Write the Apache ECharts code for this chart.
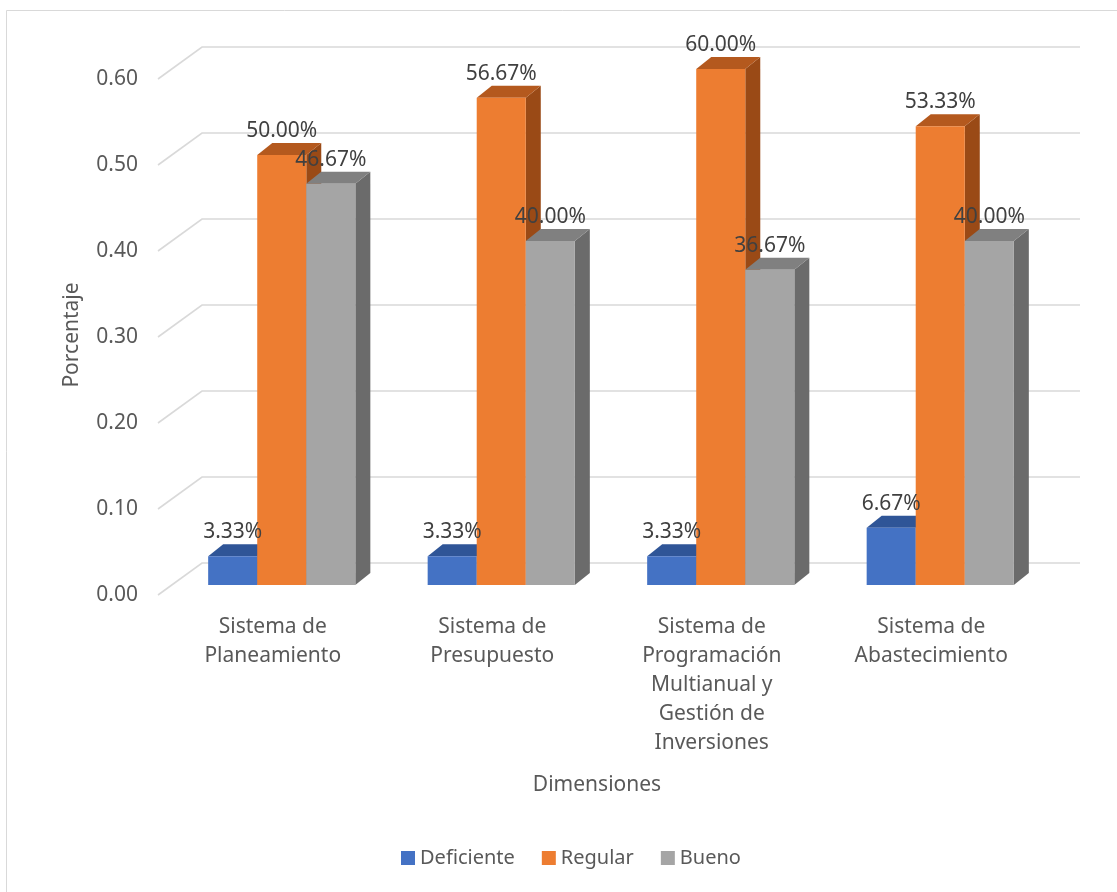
<!DOCTYPE html>
<html>
<head>
<meta charset="utf-8">
<script src="https://cdn.jsdelivr.net/npm/echarts@6/dist/echarts.min.js"></script>
<style>
html,body{margin:0;padding:0;background:#fff;}
#chart{width:1117px;height:892px;}
</style>
</head>
<body>
<div id="chart"></div>
<script>
// ---- data ----
const categories = [
  'Sistema de\nPlaneamiento',
  'Sistema de\nPresupuesto',
  'Sistema de\nProgramación\nMultianual y\nGestión de\nInversiones',
  'Sistema de\nAbastecimiento'
];
const seriesNames = ['Deficiente', 'Regular', 'Bueno'];
const deficiente = [0.0333, 0.0333, 0.0333, 0.0667];
const regular = [0.5000, 0.5667, 0.6000, 0.5333];
const bueno = [0.4667, 0.4000, 0.3667, 0.4000];
const yTicks = [0, 0.1, 0.2, 0.3, 0.4, 0.5, 0.6];
const xTitle = 'Dimensiones';
const yTitle = 'Porcentaje';

// ---- style ----
const FONT = '"Noto Sans", "Open Sans", sans-serif';
const colors = [
  {front: '#4472C4', top: '#2F5597', side: '#2A4C87'},
  {front: '#ED7D31', top: '#B4591E', side: '#9A4A16'},
  {front: '#A5A5A5', top: '#808080', side: '#6B6B6B'}
];
const allValues = [deficiente, regular, bueno];
const BACK_DX = 44, BACK_DY = -32;   // back wall offset
const PLANE_DX = 14, PLANE_DY = -10; // bar plane offset
const DEPTH_DX = 15, DEPTH_DY = -12; // bar depth
const BAR_RATIO = 0.2235;

function barGeom(api, s) {
  const c0 = api.coord([api.value(0), 0]);
  const c1 = api.coord([api.value(0), api.value(1)]);
  const bandW = api.size([1, 0])[0];
  const bw = bandW * BAR_RATIO;
  const cx = c0[0] + PLANE_DX + (s - 1) * bw;
  const x0 = cx - bw / 2, x1 = cx + bw / 2;
  const yb = c0[1] + PLANE_DY, yt = c1[1] + PLANE_DY;
  return {x0, x1, yb, yt, cx};
}

function makeBarSeries(s) {
  return {
    name: seriesNames[s],
    type: 'custom',
    z: 3,
    itemStyle: {color: colors[s].front},
    data: allValues[s].map((v, i) => [i, v]),
    renderItem: function (params, api) {
      const g = barGeom(api, s);
      const c = colors[s];
      return {
        type: 'group',
        children: [
          {type: 'polygon', shape: {points: [[g.x1, g.yb], [g.x1 + DEPTH_DX, g.yb + DEPTH_DY], [g.x1 + DEPTH_DX, g.yt + DEPTH_DY], [g.x1, g.yt]]}, style: {fill: c.side}},
          {type: 'polygon', shape: {points: [[g.x0, g.yt], [g.x1, g.yt], [g.x1 + DEPTH_DX, g.yt + DEPTH_DY], [g.x0 + DEPTH_DX, g.yt + DEPTH_DY]]}, style: {fill: c.top}},
          {type: 'rect', shape: {x: g.x0, y: g.yt, width: g.x1 - g.x0, height: g.yb - g.yt}, style: {fill: c.front}}
        ]
      };
    }
  };
}

function makeLabelSeries(s) {
  return {
    name: seriesNames[s],
    type: 'custom',
    z: 5,
    itemStyle: {color: colors[s].front},
    data: allValues[s].map((v, i) => [i, v]),
    renderItem: function (params, api) {
      const g = barGeom(api, s);
      return {
        type: 'text',
        style: {
          x: g.cx, y: g.yt - 24,
          text: (api.value(1) * 100).toFixed(2) + '%',
          align: 'center', verticalAlign: 'middle',
          fill: '#404040', font: '21px ' + FONT
        }
      };
    }
  };
}

const gridSeries = {
  type: 'custom',
  z: 1,
  silent: true,
  data: yTicks.map(v => [0, v]),
  renderItem: function (params, api) {
    const cs = params.coordSys;
    const y = api.coord([0, api.value(1)])[1];
    return {
      type: 'polyline',
      shape: {points: [[cs.x, y], [cs.x + BACK_DX, y + BACK_DY], [cs.x + cs.width + BACK_DX, y + BACK_DY]]},
      style: {stroke: '#D9D9D9', lineWidth: 1.6, fill: null}
    };
  }
};

const chart = echarts.init(document.getElementById('chart'), null, {renderer: 'canvas'});
chart.setOption({
  backgroundColor: '#fff',
  animation: false,
  grid: {left: 158, right: 81, top: 79, bottom: 297, containLabel: false},
  xAxis: {
    type: 'category',
    data: categories,
    axisLine: {show: false},
    axisTick: {show: false},
    axisLabel: {interval: 0, margin: 18, color: '#595959', fontSize: 21, fontFamily: FONT, lineHeight: 29, align: 'center', padding: [0, 0, 0, 10]},
    name: xTitle,
    nameLocation: 'middle',
    nameGap: 180,
    nameTextStyle: {color: '#595959', fontSize: 21, fontFamily: FONT, verticalAlign: 'top'}
  },
  yAxis: {
    type: 'value',
    min: 0, max: 0.6, interval: 0.1,
    axisLine: {show: false},
    axisTick: {show: false},
    splitLine: {show: false},
    axisLabel: {margin: 20, color: '#595959', fontSize: 21, fontFamily: FONT, formatter: v => v.toFixed(2), padding: [3, 0, 0, 0]}
  },
  legend: {
    data: seriesNames,
    left: 401,
    top: 848,
    padding: 0,
    itemWidth: 14,
    itemHeight: 14,
    itemGap: 27,
    icon: 'rect',
    textStyle: {color: '#595959', fontSize: 20, fontFamily: FONT}
  },
  graphic: [
    {type: 'rect', shape: {x: 6.5, y: 10.5, width: 1300, height: 1000}, style: {fill: null, stroke: '#D9D9D9', lineWidth: 1}, silent: true},
    {type: 'text', x: 72, y: 335, rotation: Math.PI / 2, style: {text: yTitle, align: 'center', verticalAlign: 'middle', fill: '#595959', font: '21px ' + FONT}, silent: true}
  ],
  series: [gridSeries, makeBarSeries(0), makeBarSeries(1), makeBarSeries(2), makeLabelSeries(0), makeLabelSeries(1), makeLabelSeries(2)]
});
</script>
</body>
</html>
